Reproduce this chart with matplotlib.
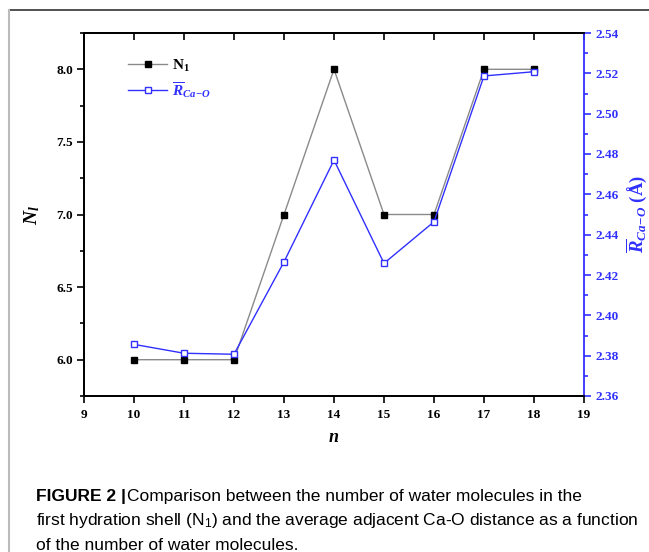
import matplotlib
matplotlib.use('Agg')
import matplotlib.pyplot as plt
from matplotlib.lines import Line2D
from matplotlib.ticker import MultipleLocator

plt.rcParams['font.family'] = ['Liberation Serif', 'DejaVu Serif']
plt.rcParams['mathtext.fontset'] = 'custom'
plt.rcParams['mathtext.rm'] = 'Liberation Serif:bold'
plt.rcParams['mathtext.it'] = 'Liberation Serif:italic:bold'
plt.rcParams['mathtext.bf'] = 'Liberation Serif:bold'

# data
n = [10, 11, 12, 13, 14, 15, 16, 17, 18]
n1 = [6.0, 6.0, 6.0, 7.0, 8.0, 7.0, 7.0, 8.0, 8.0]
r_cao = [2.3856, 2.3812, 2.3807, 2.4265, 2.4770, 2.4258, 2.4464, 2.5187, 2.5208]
left_ticks = [6.0, 6.5, 7.0, 7.5, 8.0]
right_ticks = [2.36, 2.38, 2.40, 2.42, 2.44, 2.46, 2.48, 2.50, 2.52, 2.54]

blue = '#3030ff'

fig = plt.figure(figsize=(6.49, 5.52), dpi=100)
ax = fig.add_axes([84 / 649, 1 - 396 / 552, 500 / 649, 363 / 552])
ax2 = ax.twinx()

l1, = ax.plot(n, n1, color='#8a8a8a', lw=1.0, marker='s', ms=5,
              mfc='black', mec='black', label='N$_1$')
l2, = ax2.plot(n, r_cao, color=blue, lw=1.0, marker='s', ms=5,
               mfc='white', mec=blue, label=r'$\overline{R}_{Ca\!-\!O}$')

ax.set_xlim(9, 19)
ax.set_ylim(5.75, 8.25)
ax2.set_ylim(2.36, 2.54)

ax.xaxis.set_major_locator(MultipleLocator(1))
ax.yaxis.set_minor_locator(MultipleLocator(0.25))
ax2.yaxis.set_minor_locator(MultipleLocator(0.01))
ax.set_yticks(left_ticks)
ax.set_yticklabels(['%.1f' % v for v in left_ticks])
ax2.set_yticks(right_ticks)
ax2.set_yticklabels(['%.2f' % v for v in right_ticks])

ax.tick_params(axis='x', which='both', direction='out', length=5, width=1.2,
               labelsize=9.5, pad=4)
ax.tick_params(axis='y', which='major', direction='out', length=5, width=1.2,
               labelsize=9.5, pad=3)
ax.tick_params(axis='y', which='minor', direction='out', length=3, width=1.2)
ax2.tick_params(axis='y', which='major', direction='out', length=5, width=1.2,
                labelsize=9.5, colors=blue, pad=3)
ax2.tick_params(axis='y', which='minor', direction='out', length=3, width=1.2,
                colors=blue)
for lab in ax.get_xticklabels() + ax.get_yticklabels() + ax2.get_yticklabels():
    lab.set_fontweight('bold')

# top ticks pointing inward
secx = ax.secondary_xaxis('top')
secx.xaxis.set_major_locator(MultipleLocator(1))
secx.tick_params(direction='in', length=5, width=1.2, labeltop=False)

for s in ['left', 'bottom', 'top']:
    ax.spines[s].set_linewidth(1.3)
    ax2.spines[s].set_linewidth(1.3)
secx.spines['top'].set_linewidth(1.3)
ax2.spines['right'].set_color(blue)
ax2.spines['right'].set_linewidth(1.3)
ax.spines['right'].set_visible(False)

ax.set_xlabel('$n$', fontsize=13, labelpad=6)
ax.set_ylabel('$N_l$', fontsize=14, labelpad=10)
ax2.set_ylabel(r'$\overline{R}_{Ca\!-\!O}$ (Å)', fontsize=13.5, color=blue,
               fontweight='bold', labelpad=4)

leg = ax.legend(handles=[l1, l2], loc='upper left', frameon=False,
                bbox_to_anchor=(0.06, 0.97), handlelength=2.6,
                handletextpad=0.3, labelspacing=0.4,
                prop={'family': 'Liberation Serif', 'weight': 'bold', 'size': 11})
leg.get_texts()[1].set_color(blue)

# frame around the figure panel
fig.add_artist(Line2D([9 / 649, 1], [1 - 10 / 552, 1 - 10 / 552],
                      color='#333333', lw=1.2))
fig.add_artist(Line2D([9 / 649, 9 / 649], [0, 1 - 10 / 552],
                      color='#bbbbbb', lw=1.5))

# caption
cap_font = ['Liberation Sans', 'DejaVu Sans']
cap_size = 12.5
t0 = fig.text(36 / 649, 1 - 497 / 552, 'FIGURE 2 |', fontsize=cap_size,
              fontweight='bold', family=cap_font, va='center')
fig.canvas.draw()
bb = t0.get_window_extent()
fig.text((bb.x1 + 1) / 649, 1 - 497 / 552,
         'Comparison between the number of water molecules in the',
         fontsize=cap_size, family=cap_font, va='center')
fig.text(36 / 649, 1 - 521 / 552,
         r'first hydration shell (N$\mathregular{_1}$) and the average adjacent Ca-O distance as a function',
         fontsize=cap_size, family=cap_font, va='center')
fig.text(36 / 649, 1 - 545 / 552, 'of the number of water molecules.',
         fontsize=cap_size, family=cap_font, va='center')

fig.savefig('out.png', dpi=100)
